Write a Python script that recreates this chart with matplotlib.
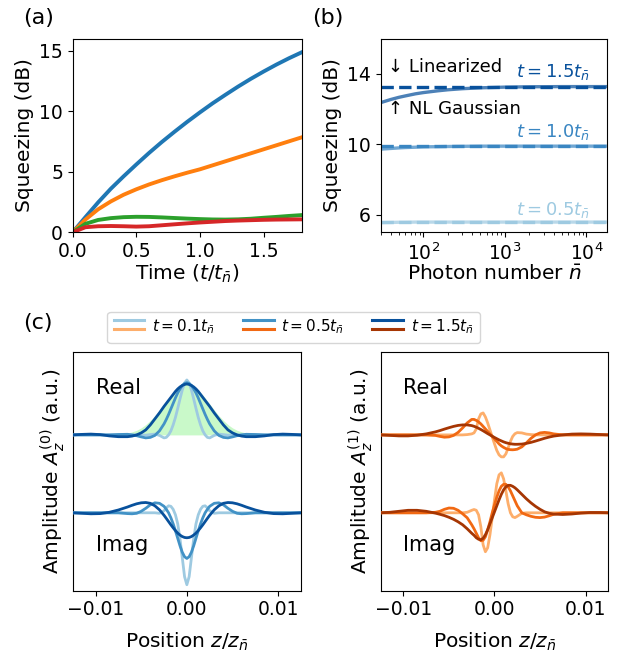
import numpy as np
import matplotlib
matplotlib.use("Agg")
import matplotlib.pyplot as plt
from matplotlib.legend_handler import HandlerBase
from matplotlib.lines import Line2D

plt.rcParams['font.family'] = ['DejaVu Sans']
plt.rcParams['mathtext.fontset'] = 'dejavusans'

# ---------------- panel (a) ----------------
t_a = [0, 0.1, 0.2, 0.3, 0.4, 0.5, 0.6, 0.7, 0.8, 0.9, 1.0, 1.1, 1.2, 1.3, 1.4, 1.5, 1.6, 1.7, 1.8]
sq_blue = [0, 1.25, 2.47, 3.6, 4.62, 5.6, 6.55, 7.45, 8.3, 9.12, 9.9, 10.65, 11.35, 12.03, 12.67, 13.27, 13.84, 14.37, 14.86]
sq_orange = [0, 1.05, 1.9, 2.55, 3.1, 3.55, 3.95, 4.3, 4.62, 4.92, 5.2, 5.53, 5.86, 6.19, 6.52, 6.85, 7.18, 7.51, 7.84]
sq_green = [0, 0.7, 1.02, 1.17, 1.25, 1.28, 1.27, 1.23, 1.18, 1.13, 1.09, 1.06, 1.05, 1.07, 1.12, 1.2, 1.27, 1.35, 1.42]
sq_red = [0, 0.42, 0.5, 0.52, 0.5, 0.47, 0.5, 0.58, 0.66, 0.74, 0.81, 0.87, 0.93, 0.97, 1.0, 1.03, 1.05, 1.06, 1.07]

# ---------------- panel (b) ----------------
nbar = [30, 40, 50, 60, 80, 100, 150, 200, 300, 500, 1000, 2000, 5000, 10000, 18000]
nl_t15 = [12.36, 12.54, 12.66, 12.74, 12.86, 12.93, 13.03, 13.09, 13.15, 13.2, 13.24, 13.26, 13.27, 13.27, 13.27]
nl_t10 = [9.72, 9.76, 9.79, 9.81, 9.83, 9.85, 9.86, 9.87, 9.88, 9.89, 9.89, 9.89, 9.89, 9.89, 9.89]
nl_t05 = [5.55, 5.56, 5.57, 5.57, 5.58, 5.58, 5.58, 5.58, 5.58, 5.58, 5.58, 5.58, 5.58, 5.58, 5.58]
nbar_lin = [30, 18000]
lin_t15 = [13.27, 13.27]
lin_t10 = [9.89, 9.89]
lin_t05 = [5.58, 5.58]
b_labels = ["$t = 0.5t_{\\bar{n}}$", "$t = 1.0t_{\\bar{n}}$", "$t = 1.5t_{\\bar{n}}$"]

# ---------------- panel (c) ----------------
z_milli = [-12.5, -11.5, -10.5, -9.5, -8.5, -7.5, -6.5, -6, -5.5, -5, -4.5, -4, -3.5, -3, -2.5, -2.25,
           -2, -1.75, -1.5, -1.25, -1, -0.75, -0.5, -0.25, 0, 0.25, 0.5, 0.75, 1, 1.25, 1.5, 1.75, 2,
           2.25, 2.5, 3, 3.5, 4, 4.5, 5, 5.5, 6, 6.5, 7.5, 8.5, 9.5, 10.5, 11.5, 12.5]

# A^(0), real part (t = 0.1, 0.5, 1.5) and Gaussian reference
re0_t01 = [0, 0, 0, 0, 0, 0, 0, 0, 0, 0, -0.3, 0.3, 0.8, -0.5, -3, -2.5, 0, 4, 10, 17.5, 26.5, 36, 45, 52,
           55, 52, 45, 36, 26.5, 17.5, 10, 4, 0, -2.5, -3, -0.5, 0.8, 0.3, -0.3, 0, 0, 0, 0, 0, 0, 0, 0, 0, 0]
re0_t05 = [0, 0, 0, 0, 0, 0.4, 0.6, 0, -0.8, -2, -3, -2.5, -0.5, 4, 11, 15.5, 20.5, 26, 31.5, 37, 42, 46,
           49.5, 51.5, 52.3, 51.5, 49.5, 46, 42, 37, 31.5, 26, 20.5, 15.5, 11, 4, -0.5, -2.5, -3, -2, -0.8,
           0, 0.6, 0.4, 0, 0, 0, 0, 0]
re0_t15 = [0, 0.5, 0.8, 0.3, -1, -1.8, -1.8, -1.2, 0, 2, 5, 10, 16, 22, 28.5, 31.5, 34.5, 37.5, 40.5, 43.5,
           46, 48, 49.5, 50.5, 51, 50.5, 49.5, 48, 46, 43.5, 40.5, 37.5, 34.5, 31.5, 28.5, 22, 16, 10, 5, 2,
           0, -1.2, -1.8, -1.8, -1, 0.3, 0.8, 0.5, 0]
re0_gauss = [0, 0, 0, 0, 0.2, 0.6, 1.9, 3, 4.6, 7, 10.3, 14.5, 19.3, 25, 31, 34, 37, 39.8, 42.5, 45, 47,
             48.6, 50, 50.6, 51, 50.6, 50, 48.6, 47, 45, 42.5, 39.8, 37, 34, 31, 25, 19.3, 14.5, 10.3, 7,
             4.6, 3, 1.9, 0.6, 0.2, 0, 0, 0, 0]
# A^(0), imaginary part
im0_t01 = [0, 0, 0, 0, 0, 0, 0, 0, 0, 0, 0, 0, 0, -0.5, 2, 5, 7, 6.5, 3.5, -2, -11, -26, -45, -64,
           -72, -64, -45, -26, -11, -2, 3.5, 6.5, 7, 5, 2, -0.5, 0, 0, 0, 0, 0, 0, 0, 0, 0, 0, 0, 0, 0]
im0_t05 = [0, 0, 0, 0, 0, 0, -0.8, -1, -0.5, 1.5, 4.5, 8, 10, 9.5, 6.5, 3.5, 0, -5, -11, -18, -25.5, -33,
           -39.5, -44, -45.7, -44, -39.5, -33, -25.5, -18, -11, -5, 0, 3.5, 6.5, 9.5, 10, 8, 4.5, 1.5,
           -0.5, -1, -0.8, 0, 0, 0, 0, 0, 0]
im0_t15 = [0, -0.5, -1, -0.8, 0.5, 2.8, 5.8, 7.5, 9, 10, 10.3, 9.5, 7, 3, -2.5, -5.6, -8.8, -12, -15,
           -17.8, -20.3, -22.3, -23.8, -24.7, -25, -24.7, -23.8, -22.3, -20.3, -17.8, -15, -12, -8.8,
           -5.6, -2.5, 3, 7, 9.5, 10.3, 10, 9, 7.5, 5.8, 2.8, 0.5, -0.8, -1, -0.5, 0]

# A^(1), real part
re1_t01 = [0, 0, 0, 0, 0, 0, 0, 0, 0, 0, 0, 0, 0, 0.3, 1, 2, 6, 16, 21, 22, 18, 12, 5, -2, -9, -15.5,
           -20, -22, -22, -19, -13, -6.5, -1.5, 1.2, 2.3, 2, 0.8, 0.3, 0, 0, 0, 0, 0, 0, 0, 0, 0, 0, 0]
re1_t05 = [0, 0, 0, 0, 0, 0, -0.5, -1.5, -2.3, -2, -0.5, 2.5, 7, 12, 15.5, 15.5, 14.5, 13, 11, 8.5, 6,
           3.5, 1, -1.5, -4, -6.5, -9, -11, -12.5, -13.7, -14.5, -14.8, -14.9, -14.7, -14.3, -12, -8,
           -3.5, 0, 2, 2.5, 2, 1, 0, 0, 0, 0, 0, 0]
re1_t15 = [0, -0.5, -1, -1, -0.3, 1, 3, 4.3, 5.8, 7.2, 8.5, 9.5, 10, 10, 9.3, 8.6, 7.7, 6.6, 5.4, 4.1,
           2.7, 1.3, 0, -1.3, -2.6, -3.8, -5, -6, -7, -7.8, -8.4, -8.9, -9.2, -9.4, -9.4, -9.2, -8.5,
           -7.5, -6.2, -4.8, -3.4, -2.2, -1.2, 0, 0.8, 1, 0.8, 0.4, 0]
# A^(1), imaginary part
im1_t01 = [0, 0, 0, 0, 0, 0, 0, 0, 0, 0, 0, 0, 0, 0.5, 2.5, 3.3, 2.5, -2, -14, -32, -39, -35, -22, -5,
           13, 29, 38, 40, 34, 22, 9, 0, -4, -4.8, -3.5, -0.5, 0, 0, 0, 0, 0, 0, 0, 0, 0, 0, 0, 0, 0]
im1_t05 = [0, 0, 0, 0, 0, 0, 0.5, 1.5, 3.5, 4.8, 4.5, 2.5, -1, -5, -12, -16, -20.5, -25, -28, -27.5,
           -24, -17, -9, 0, 8, 15.5, 22, 26.5, 28.5, 28.5, 26, 22, 17, 12, 7, 0, -2, -3.5, -4.5, -4.8,
           -4.3, -3, -1.5, 0, 0, 0, 0, 0, 0]
im1_t15 = [0, 0.5, 1.5, 2.5, 2.5, 1.5, -0.3, -1.5, -2.8, -4.5, -6.5, -9, -12, -16, -20.5, -22.5, -25,
           -26.5, -27, -25.5, -22, -17, -11, -5, 1, 7, 13, 18.5, 23, 26, 27.5, 27.5, 26.5, 25, 23, 18.5,
           14, 10, 6.5, 3.5, 1, -0.5, -1.3, -1.7, -1.2, -0.3, 0.3, 0.3, 0]

c_labels = ["$t = 0.1t_{\\bar{n}}$", "$t = 0.5t_{\\bar{n}}$", "$t = 1.5t_{\\bar{n}}$"]

# ---------------- styling ----------------
blues = ['#9ecae1', '#4292c6', '#08519c']
oranges = ['#fdae6b', '#f16913', '#a63603']
b_colors = ['#9ecae1', '#3a86c2', '#08519c']
TICK = 13.5
LAB = 14.5

fig = plt.figure(figsize=(6.18, 6.56), dpi=100)
W, H = 618.0, 656.0

def rect(x0, y0, x1, y1):
    return [x0 / W, 1 - y1 / H, (x1 - x0) / W, (y1 - y0) / H]

ax_a = fig.add_axes(rect(72.7, 38.5, 301.7, 232.3))
ax_b = fig.add_axes(rect(380.7, 38.5, 607.3, 232.3))
ax_c0 = fig.add_axes(rect(72.7, 351.7, 301.0, 590.7))
ax_c1 = fig.add_axes(rect(380.7, 351.7, 608.3, 590.7))

# panel (a)
for ys, c in zip([sq_blue, sq_orange, sq_green, sq_red], ['C0', 'C1', 'C2', 'C3']):
    ax_a.plot(t_a, ys, color=c, lw=2.8)
ax_a.set_xlim(0, 1.8)
ax_a.set_ylim(0, 16)
ax_a.set_xticks([0, 0.5, 1.0, 1.5])
ax_a.set_yticks([0, 5, 10, 15])
ax_a.set_xlabel("Time $(t/t_{\\bar{n}})$", fontsize=LAB, labelpad=1)
ax_a.set_ylabel("Squeezing (dB)", fontsize=LAB)

# panel (b)
for nl, lin, c in zip([nl_t05, nl_t10, nl_t15], [lin_t05, lin_t10, lin_t15], b_colors):
    ax_b.plot(nbar, nl, color=c, lw=2.4, alpha=0.72, solid_capstyle='butt')
    ax_b.plot(nbar_lin, lin, color=c, lw=2.4, ls='--')
ax_b.set_xscale('log')
ax_b.set_xlim(30, 18000)
ax_b.set_ylim(5, 16)
ax_b.set_yticks([6, 10, 14])
ax_b.set_xlabel("Photon number $\\bar{n}$", fontsize=LAB, labelpad=1)
ax_b.set_ylabel("Squeezing (dB)", fontsize=LAB)
ax_b.text(0.032, 0.854, "↓ Linearized", transform=ax_b.transAxes, fontsize=13, va='center', ha='left')
ax_b.text(0.032, 0.636, "↑ NL Gaussian", transform=ax_b.transAxes, fontsize=13, va='center', ha='left')
for lab, c, yy in zip(b_labels, b_colors, [0.116, 0.516, 0.825]):
    ax_b.text(0.925, yy, lab, transform=ax_b.transAxes, fontsize=13, color=c, va='center', ha='right')

# panel (c)
z = np.array(z_milli) * 1e-3
off = 39.0
ax_c0.fill_between(z, off, off + np.array(re0_gauss), color='#c9f9c9', lw=0, zorder=1)
for ys, c in zip([re0_t01, re0_t05, re0_t15], blues):
    ax_c0.plot(z, off + np.array(ys), color=c, lw=2.0, zorder=3)
for ys, c in zip([im0_t01, im0_t05, im0_t15], blues):
    ax_c0.plot(z, -off + np.array(ys), color=c, lw=2.0, zorder=3)
for ys, c in zip([re1_t01, re1_t05, re1_t15], oranges):
    ax_c1.plot(z, off + np.array(ys), color=c, lw=2.0, zorder=3)
for ys, c in zip([im1_t01, im1_t05, im1_t15], oranges):
    ax_c1.plot(z, -off + np.array(ys), color=c, lw=2.0, zorder=3)

for ax, lab in zip([ax_c0, ax_c1], ["Amplitude $A_z^{(0)}$ (a.u.)", "Amplitude $A_z^{(1)}$ (a.u.)"]):
    ax.set_xlim(-0.0125, 0.0125)
    ax.set_ylim(-off - 78, off + 83.3)
    ax.set_yticks([])
    ax.set_xticks([-0.01, 0, 0.01])
    ax.set_xticklabels(["\u22120.01", "0.00", "0.01"])
    ax.set_xlabel("Position $z/z_{\\bar{n}}$", fontsize=LAB, labelpad=8)
    ax.set_ylabel(lab, fontsize=LAB, labelpad=4)
    ax.text(0.1, 0.848, "Real", transform=ax.transAxes, fontsize=15, va='center', ha='left')
    ax.text(0.1, 0.191, "Imag", transform=ax.transAxes, fontsize=15, va='center', ha='left')

for ax in [ax_a, ax_b, ax_c0, ax_c1]:
    ax.tick_params(labelsize=TICK)

# legend with stacked blue/orange handles
class PairKey:
    def __init__(self, top, bottom):
        self.top = top
        self.bottom = bottom

class PairHandler(HandlerBase):
    def create_artists(self, legend, orig_handle, xdescent, ydescent, width, height, fontsize, trans):
        x0, x1 = -xdescent, -xdescent + width
        yc = height / 2 - ydescent + 1.5
        l1 = Line2D([x0, x1], [yc + 3.25] * 2, color=orig_handle.top, lw=2.2, transform=trans)
        l2 = Line2D([x0, x1], [yc - 3.25] * 2, color=orig_handle.bottom, lw=2.2, transform=trans)
        return [l1, l2]

keys = [PairKey(b, o) for b, o in zip(blues, oranges)]
fig.legend(keys, c_labels, handler_map={PairKey: PairHandler()}, ncol=3, loc='upper center',
           bbox_to_anchor=(0.475, 1 - 304 / H), fontsize=11, columnspacing=1.85,
           handlelength=2.0, handletextpad=0.5, borderpad=0.4)

fig.text(22.7 / W, 1 - 18 / H, "(a)", fontsize=16, ha='left', va='center')
fig.text(311.7 / W, 1 - 18 / H, "(b)", fontsize=16, ha='left', va='center')
fig.text(22.7 / W, 1 - 323 / H, "(c)", fontsize=16, ha='left', va='center')

fig.savefig("out.png", dpi=100)
